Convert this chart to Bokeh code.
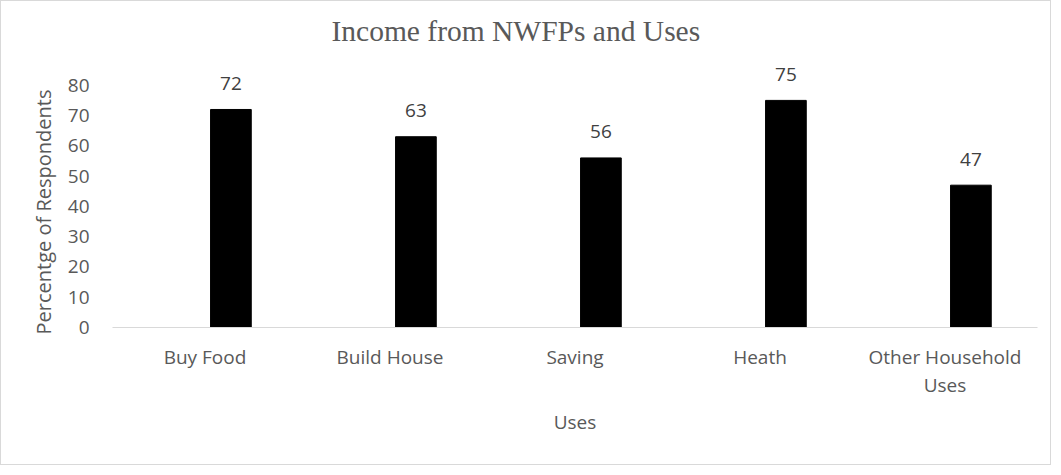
from bokeh.plotting import figure
from bokeh.models import ColumnDataSource, Range1d, FixedTicker, LabelSet, Label, Title
from bokeh.transform import dodge
from bokeh.core.properties import value
from bokeh.embed import file_html
from bokeh.resources import INLINE

categories = ["Buy Food", "Build House", "Saving", "Heath", "Other Household\nUses"]
values = [72, 63, 56, 75, 47]
value_labels = ["72", "63", "56", "75", "47"]
y_ticks = [0, 10, 20, 30, 40, 50, 60, 70, 80]
title_text = "Income from NWFPs and Uses"
y_title = "Percentge of Respondents"
x_title = "Uses"

source = ColumnDataSource(data=dict(cat=categories, val=values, lab=value_labels))

p = figure(x_range=categories, y_range=Range1d(0, 107), width=1051, height=465,
           output_backend="svg", toolbar_location=None,
           min_border_left=111, min_border_right=15, min_border_top=2, min_border_bottom=139)
p.styles = {"border": "1px solid #d9d9d9"}
p.outline_line_color = None
p.xgrid.grid_line_color = None
p.ygrid.grid_line_color = None

grey = "#595959"

p.vbar(x=dodge("cat", 0.14, range=p.x_range), top="val", width=0.22, source=source,
       fill_color="black", line_color="black")

labels = LabelSet(x=dodge("cat", 0.14, range=p.x_range), y="val", text="lab", source=source,
                  text_align="center", text_baseline="middle", y_offset=26,
                  text_font=value("Open Sans"), text_font_size=value("19px"),
                  text_color=value("#404040"))
p.add_layout(labels)

title = Label(x=219, y=297, x_units="screen", y_units="screen", text=title_text,
              text_align="left", text_baseline="middle", text_font="Liberation Serif",
              text_font_size="29.5px", text_color=grey)
p.add_layout(title)

p.yaxis.ticker = FixedTicker(ticks=y_ticks)
p.yaxis.axis_line_color = None
p.yaxis.major_tick_line_color = None
p.yaxis.minor_tick_line_color = None
p.yaxis.major_label_standoff = 17

ylab = Title(text=y_title, align="left", offset=-7, standoff=16,
             text_font="Open Sans", text_font_size="20px", text_font_style="normal",
             text_color=grey)
p.add_layout(ylab, "left")

p.xaxis.axis_line_color = "#d9d9d9"
p.xaxis.axis_line_width = 1
p.xaxis.major_tick_line_color = None
p.xaxis.minor_tick_line_color = None
p.xaxis.major_label_standoff = 10
p.xaxis.axis_label = x_title
p.xaxis.axis_label_standoff = 8
p.xaxis.major_label_text_line_height = 1.1

for ax in (p.xaxis[0], p.yaxis[0]):
    ax.major_label_text_font = "Open Sans"
    ax.major_label_text_font_size = "19px"
    ax.major_label_text_color = grey
    ax.axis_label_text_font = "Open Sans"
    ax.axis_label_text_font_size = "19px"
    ax.axis_label_text_color = grey
    ax.axis_label_text_font_style = "normal"

open("out.html", "w").write(file_html(p, INLINE))
